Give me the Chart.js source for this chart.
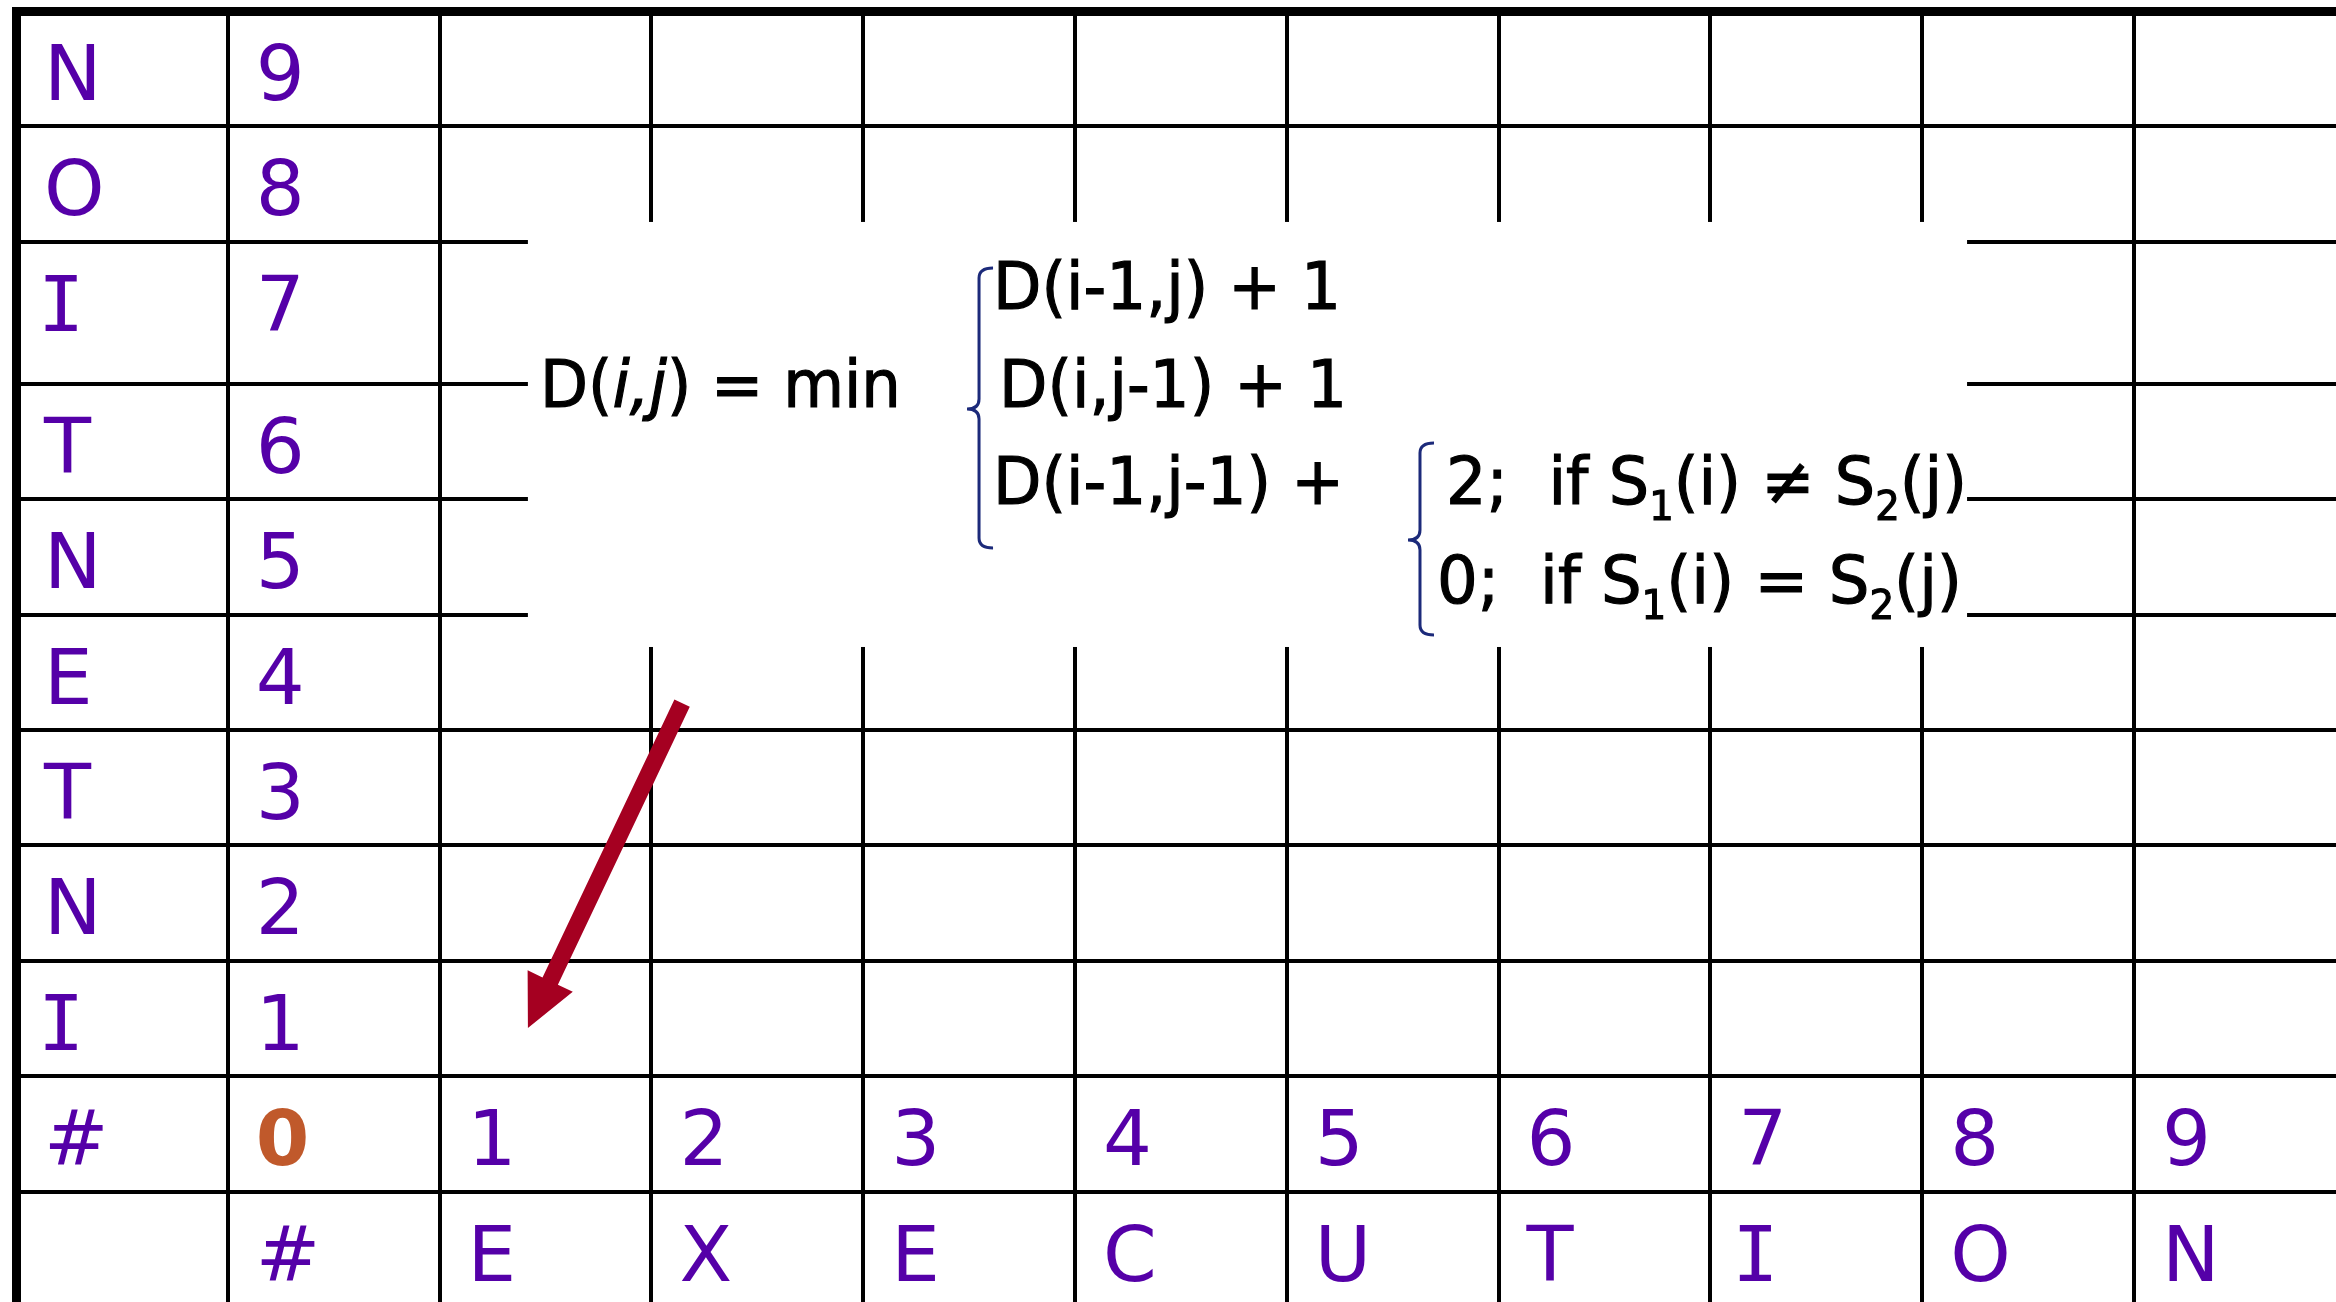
<!DOCTYPE html>
<html>
<head>
<meta charset="utf-8">
<title>edit distance table</title>
<script src="https://cdn.jsdelivr.net/npm/chart.js@4.4.0/dist/chart.umd.min.js"></script>
<style>
  html, body { margin: 0; padding: 0; background: #fff; }
  canvas { display: block; }
</style>
</head>
<body>
<canvas id="grid" width="2336" height="1302"></canvas>
<script>
// strings: S1 runs up the left side, S2 along the bottom
var s1 = ['I','N','T','E','N','T','I','O','N'];
var s2 = ['E','X','E','C','U','T','I','O','N'];
var rowNums = ['0','1','2','3','4','5','6','7','8','9'];
var colNums = ['1','2','3','4','5','6','7','8','9'];

// grid layout, in grid units (rows counted from the top, the "I 7" row is taller)
var rowHeights = [1, 1, 1.23, 1, 1, 1, 1, 1, 1, 1, 1];
var colCount = 11;

var purple = '#5500a8';
var orange = '#c0592b';

var rowTop = [];
var acc = 0;
rowHeights.forEach(function (h) { rowTop.push(acc); acc += h; });
var colBounds = [];
for (var c = 0; c < colCount; c++) colBounds.push(c);

// one point per table cell, anchored at the cell's top-left corner
var cells = [];
s1.forEach(function (ch, i) {
  var r = s1.length - 1 - i;
  cells.push({ x: 0, y: rowTop[r], t: ch });
  cells.push({ x: 1, y: rowTop[r], t: rowNums[i + 1] });
});
cells.push({ x: 0, y: rowTop[9], t: '#' });
cells.push({ x: 1, y: rowTop[9], t: rowNums[0], zero: true });
colNums.forEach(function (n, j) { cells.push({ x: j + 2, y: rowTop[9], t: n }); });
cells.push({ x: 1, y: rowTop[10], t: '#' });
s2.forEach(function (ch, j) { cells.push({ x: j + 2, y: rowTop[10], t: ch }); });

// recurrence shown over the grid (anchors in grid units)
var formula = [
  { runs: [['D(', ''], ['i,j', 'i'], [') = min', '']], x0: 2.474, x1: 4.178, y: 3.432 },
  { runs: [['D(i-1,j) + 1', '']], x0: 4.613, x1: 6.256, y: 2.582 },
  { runs: [['D(i,j-1) + 1', '']], x0: 4.641, x1: 6.284, y: 3.432 },
  { runs: [['D(i-1,j-1) +', '']], x0: 4.613, x1: 6.270, y: 4.272 },
  { runs: [['2;  if S', ''], ['1', 's'], ['(i) \u2260 S', ''], ['2', 's'], ['(j)', '']], x0: 6.752, x1: 9.212, y: 4.272 },
  { runs: [['0;  if S', ''], ['1', 's'], ['(i) = S', ''], ['2', 's'], ['(j)', '']], x0: 6.709, x1: 9.188, y: 5.130 }
];
var box = { x0: 2.417, x1: 9.212, y0: 1.828, y1: 5.511 };
var braces = [
  { x: 4.547, y0: 2.227, y1: 4.653, tip: 3.449 },
  { x: 6.629, y0: 3.744, y1: 5.407, tip: 4.584 }
];
var arrowFrom = { x: 3.145, y: 5.997 };
var arrowTo = { x: 2.417, y: 8.813 };

function fontFor(kind) {
  if (kind === 'i') return 'italic 66px "DejaVu Sans"';
  if (kind === 's') return '40px "DejaVu Sans"';
  return '66px "DejaVu Sans"';
}

function drawRuns(ctx, runs, x, y, w) {
  var total = 0;
  runs.forEach(function (r) { ctx.font = fontFor(r[1]); total += ctx.measureText(r[0]).width; });
  ctx.save();
  ctx.translate(x, y);
  ctx.scale(w / total, 1);
  var cx = 0;
  runs.forEach(function (r) {
    ctx.font = fontFor(r[1]);
    var dy = r[1] === 's' ? 16 : 0;
    ctx.fillText(r[0], cx, dy);
    ctx.strokeText(r[0], cx, dy);
    cx += ctx.measureText(r[0]).width;
  });
  ctx.restore();
}

function drawBrace(ctx, x, top, bot, tip) {
  var hook = 14, depth = 12, r = 10;
  ctx.beginPath();
  ctx.moveTo(x + hook, top);
  ctx.quadraticCurveTo(x, top, x, top + r);
  ctx.lineTo(x, tip - r);
  ctx.quadraticCurveTo(x, tip, x - depth, tip);
  ctx.quadraticCurveTo(x, tip, x, tip + r);
  ctx.lineTo(x, bot - r);
  ctx.quadraticCurveTo(x, bot, x + hook, bot);
  ctx.stroke();
}

function drawArrow(ctx, x0, y0, x1, y1) {
  var w = 17, headLen = 52, headW = 50;
  var dx = x1 - x0, dy = y1 - y0, L = Math.hypot(dx, dy);
  var ux = dx / L, uy = dy / L, px = -uy, py = ux;
  var bx = x1 - ux * headLen, by = y1 - uy * headLen;
  ctx.beginPath();
  ctx.moveTo(x0 + px * w / 2, y0 + py * w / 2);
  ctx.lineTo(bx + px * w / 2, by + py * w / 2);
  ctx.lineTo(bx + px * headW / 2, by + py * headW / 2);
  ctx.lineTo(x1, y1);
  ctx.lineTo(bx - px * headW / 2, by - py * headW / 2);
  ctx.lineTo(bx - px * w / 2, by - py * w / 2);
  ctx.lineTo(x0 - px * w / 2, y0 - py * w / 2);
  ctx.closePath();
  ctx.fill();
}

var tablePlugin = {
  id: 'tableText',
  beforeDatasetsDraw: function (chart) {
    var ctx = chart.ctx, xs = chart.scales.x, ys = chart.scales.y;
    ctx.save();
    ctx.fillStyle = '#fff';
    var l = xs.getPixelForValue(box.x0), rgt = xs.getPixelForValue(box.x1);
    var t = ys.getPixelForValue(box.y0), b = ys.getPixelForValue(box.y1);
    ctx.fillRect(l, t, rgt - l, b - t);
    ctx.restore();
  },
  afterDatasetsDraw: function (chart) {
    var ctx = chart.ctx, xs = chart.scales.x, ys = chart.scales.y;
    var meta = chart.getDatasetMeta(0);
    ctx.save();
    ctx.textBaseline = 'alphabetic';
    ctx.textAlign = 'left';
    meta.data.forEach(function (pt, i) {
      var d = cells[i];
      var px = pt.x + 28, py = pt.y + 89;
      if (d.zero) {
        ctx.font = 'bold 77px "DejaVu Sans"';
        ctx.fillStyle = orange;
      } else if (d.t === 'I') {
        ctx.font = '77px "DejaVu Sans Mono"';
        ctx.fillStyle = purple;
        px = pt.x + 22;
      } else {
        ctx.font = '77px "DejaVu Sans"';
        ctx.fillStyle = purple;
      }
      ctx.fillText(d.t, px, py);
    });

    ctx.fillStyle = '#000';
    ctx.strokeStyle = '#000';
    ctx.lineWidth = 1.2;
    formula.forEach(function (f) {
      var x0 = xs.getPixelForValue(f.x0), x1 = xs.getPixelForValue(f.x1);
      drawRuns(ctx, f.runs, x0, ys.getPixelForValue(f.y), x1 - x0);
    });

    ctx.strokeStyle = '#1c2a7a';
    ctx.lineWidth = 3;
    braces.forEach(function (b) {
      drawBrace(ctx, xs.getPixelForValue(b.x), ys.getPixelForValue(b.y0),
        ys.getPixelForValue(b.y1), ys.getPixelForValue(b.tip));
    });

    ctx.fillStyle = '#a50021';
    drawArrow(ctx, xs.getPixelForValue(arrowFrom.x), ys.getPixelForValue(arrowFrom.y),
      xs.getPixelForValue(arrowTo.x), ys.getPixelForValue(arrowTo.y));
    ctx.restore();
  }
};

var gridLine = {
  color: '#000',
  lineWidth: function (c) { return c.index === 0 ? 9 : 4; },
  drawTicks: false
};

new Chart(document.getElementById('grid').getContext('2d'), {
  type: 'scatter',
  data: {
    datasets: [{ data: cells, pointRadius: 0, pointHoverRadius: 0, showLine: false }]
  },
  options: {
    responsive: false,
    animation: false,
    events: [],
    // grid starts at the thick outer border, nothing to its left or above it
    layout: { padding: { left: 12, top: 7, right: 0, bottom: 0 } },
    plugins: { legend: { display: false }, tooltip: { enabled: false } },
    scales: {
      x: {
        type: 'linear', bounds: 'data', min: -0.0189, max: 10.954,
        afterBuildTicks: function (s) { s.ticks = colBounds.map(function (v) { return { value: v }; }); },
        afterFit: function (s) { s.height = 0; },
        ticks: { display: false },
        border: { display: false },
        grid: gridLine
      },
      y: {
        type: 'linear', bounds: 'data', reverse: true, min: -0.0347, max: 11.187,
        afterBuildTicks: function (s) { s.ticks = rowTop.map(function (v) { return { value: v }; }); },
        afterFit: function (s) { s.width = 0; },
        ticks: { display: false },
        border: { display: false },
        grid: gridLine
      }
    }
  },
  plugins: [tablePlugin]
});
</script>
</body>
</html>
